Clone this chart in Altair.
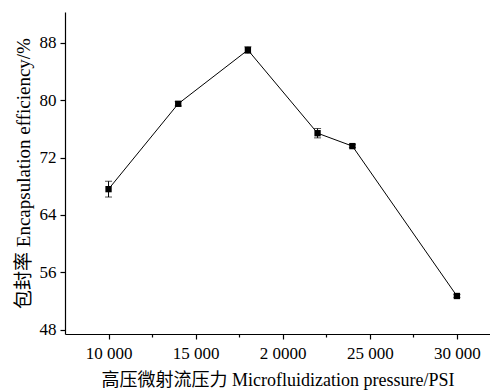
import altair as alt
import pandas as pd

pressure = [10000, 14000, 18000, 22000, 24000, 30000]
efficiency = [67.6, 79.5, 87.0, 75.4, 73.6, 52.7]
error = [1.1, 0.3, 0.45, 0.65, 0.2, 0.2]

x_major = [10000, 15000, 20000, 25000, 30000]
x_major_labels = ["10 000", "15 000", "2 0000", "25 000", "30 000"]
x_minor = [12500, 17500, 22500, 27500]
y_major = [48, 56, 64, 72, 80, 88]
y_minor = [52, 60, 68, 76, 84, 92]

df = pd.DataFrame({
    "p": pressure,
    "e": efficiency,
    "lo": [v - d for v, d in zip(efficiency, error)],
    "hi": [v + d for v, d in zip(efficiency, error)],
})

label_expr = " : ".join(
    [f"datum.value == {v} ? '{s}'" for v, s in zip(x_major, x_major_labels)] + ["''"]
)

FONT = "Liberation Serif, Times New Roman, Noto Sans CJK SC"

x_scale = alt.Scale(domain=[7500, 31900], nice=False, zero=False)
y_scale = alt.Scale(domain=[47.4, 92.3], nice=False, zero=False)

x_axis = alt.Axis(
    values=sorted(x_major + x_minor),
    labelExpr=label_expr,
    tickSize={"condition": {"test": "datum.value % 5000 == 0", "value": 5}, "value": 3},
    title="高压微射流压力  Microfluidization pressure/PSI",
    titleFontSize=18,
    grid=False,
    labelPadding=6,
    titlePadding=10,
)
y_axis = alt.Axis(
    values=sorted(y_major + y_minor),
    labelExpr="datum.value % 8 == 0 ? format(datum.value, 'd') : ''",
    tickSize={"condition": {"test": "datum.value % 8 == 0", "value": 5}, "value": 3},
    title="包封率 Encapsulation efficiency/%",
    titleFontSize=19,
    grid=False,
    labelPadding=4,
    titlePadding=6,
)

base = alt.Chart(df)
line = base.mark_line(color="black", strokeWidth=1).encode(
    x=alt.X("p:Q", scale=x_scale, axis=x_axis),
    y=alt.Y("e:Q", scale=y_scale, axis=y_axis),
)
err = base.mark_errorbar(ticks={"size": 7, "color": "black"}, color="black", thickness=1).encode(
    x=alt.X("p:Q", scale=x_scale),
    y=alt.Y("lo:Q", scale=y_scale, title=""),
    y2="hi:Q",
)
pts = base.mark_point(shape="square", filled=True, color="black", size=40, opacity=1).encode(
    x=alt.X("p:Q", scale=x_scale),
    y=alt.Y("e:Q", scale=y_scale),
)

chart = alt.layer(line, err, pts).properties(
    width=425,
    height=322,
    autosize="none",
    padding={"left": 57, "top": 4, "right": 0, "bottom": 60},
).configure_view(stroke=None).configure_axis(
    domainColor="black",
    tickColor="black",
    labelColor="black",
    titleColor="black",
    labelFont=FONT,
    titleFont=FONT,
    labelFontSize=17,
    titleFontWeight="normal",
    domainWidth=1.2,
    tickWidth=1.2,
)

chart.save("out.html", embed_options={"renderer": "svg", "actions": False})
